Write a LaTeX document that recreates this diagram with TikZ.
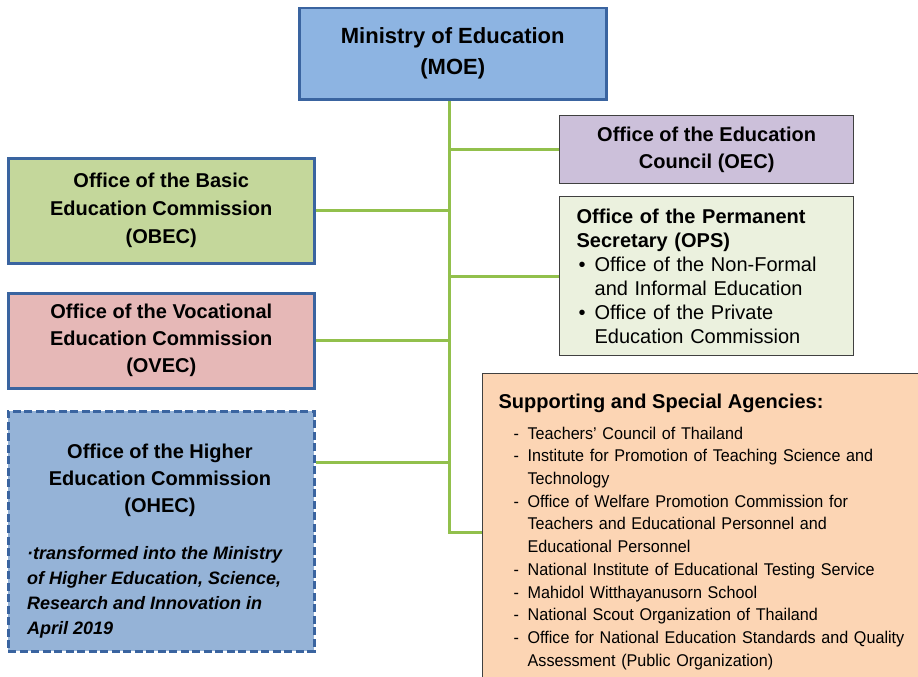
\documentclass[tikz,border=0pt]{standalone}
\usepackage{fontspec}
\setmainfont{Liberation Sans}
\newfontfamily\narrowfont[FakeStretch=0.95]{Liberation Sans}
\usetikzlibrary{backgrounds}
\definecolor{moefill}{RGB}{141,180,226}
\definecolor{boxblue}{RGB}{58,100,160}
\definecolor{obecfill}{RGB}{196,215,155}
\definecolor{ovecfill}{RGB}{230,184,183}
\definecolor{ohecfill}{RGB}{149,179,215}
\definecolor{oecfill}{RGB}{204,192,218}
\definecolor{opsfill}{RGB}{235,241,222}
\definecolor{supfill}{RGB}{252,213,180}
\definecolor{edgegray}{RGB}{64,64,64}
\definecolor{lgreen}{RGB}{146,192,76}
\newcommand{\sitem}[1]{\hspace*{15pt}\makebox[14pt][l]{-}#1}
\newcommand{\scont}[1]{\hspace*{29pt}#1}
\newcommand{\bitem}[1]{\makebox[18pt][l]{\hspace{2pt}•}#1}
\newcommand{\bcont}[1]{\hspace*{18pt}#1}
\begin{document}
\begin{tikzpicture}[x=1pt,y=-1pt,
  bluebox/.style={draw=boxblue, line width=2.5pt, inner sep=0pt, align=center, anchor=north west},
  graybox/.style={draw=edgegray, line width=1.3pt, anchor=north west},
  conn/.style={draw=lgreen, line width=3pt},
  ttl/.style={font={\fontsize{20}{27.5}\selectfont\bfseries}}
]
\path[use as bounding box] (0,0) rectangle (918,677);
\clip (0,0) rectangle (918,677);

% boxes
\node[bluebox, fill=moefill, minimum width=307pt, minimum height=91pt,
      font={\fontsize{22}{31}\selectfont\bfseries}] (MOE) at (298,7)
      {Ministry of Education\\(MOE)};

\node[bluebox, fill=obecfill, minimum width=306pt, minimum height=105pt,
      font={\fontsize{20}{28}\selectfont\bfseries}] (OBEC) at (7,157)
      {Office of the Basic\\Education Commission\\(OBEC)};

\node[bluebox, fill=ovecfill, minimum width=306pt, minimum height=95pt,
      font={\fontsize{20}{27}\selectfont\bfseries}] (OVEC) at (7,292)
      {Office of the Vocational\\Education Commission\\(OVEC)};

\node[bluebox, fill=ohecfill, minimum width=306pt, minimum height=240pt,
      dash pattern=on 8pt off 3.5pt] (OHEC) at (7,410) {};
\node[anchor=north, inner sep=0pt, align=center,
      font={\fontsize{20}{27}\selectfont\bfseries}] (ohecTitle) at (160,444)
      {Office of the Higher\\Education Commission\\(OHEC)};
\node[anchor=north west, inner sep=0pt, align=left,
      font={\fontsize{18}{25}\selectfont\bfseries\itshape}] (ohecNote) at (27,546)
      {·transformed into the Ministry\\of Higher Education, Science,\\Research and Innovation in\\April 2019};

\node[graybox, fill=oecfill, minimum width=294pt, minimum height=68pt, inner sep=0pt,
      align=center, font={\fontsize{20}{27}\selectfont\bfseries}] (OEC) at (559,115)
      {Office of the Education\\Council (OEC)};

\node[graybox, fill=opsfill, minimum width=294pt, minimum height=159pt,
      inner xsep=17pt, inner ysep=0pt, text width=260pt, align=left,
      font={\fontsize{20}{24}\selectfont}] (OPS) at (559,196)
      {\textbf{Office of the Permanent}\\
       \textbf{Secretary (OPS)}\\
       \bitem{Office of the Non-Formal}\\
       \bcont{and Informal Education}\\
       \bitem{Office of the Private}\\
       \bcont{Education Commission}};

\node[graybox, fill=supfill, inner xsep=16pt, inner ysep=20pt, text width=480pt,
      align=left, font={\narrowfont\fontsize{17}{22.7}\selectfont}] (SUP) at (482,373)
      {{\rmfamily\fontsize{20}{22.7}\selectfont\bfseries Supporting and Special Agencies:}\\[8.3pt]
       \sitem{Teachers’ Council of Thailand}\\
       \sitem{Institute for Promotion of Teaching Science and}\\
       \scont{Technology}\\
       \sitem{Office of Welfare Promotion Commission for}\\
       \scont{Teachers and Educational Personnel and}\\
       \scont{Educational Personnel}\\
       \sitem{National Institute of Educational Testing Service}\\
       \sitem{Mahidol Witthayanusorn School}\\
       \sitem{National Scout Organization of Thailand}\\
       \sitem{Office for National Education Standards and Quality}\\
       \scont{Assessment (Public Organization)}};

% connectors
\coordinate (trunkEnd) at (449,532);
\coordinate (ohecC) at (313,462);
\begin{scope}[on background layer]
  \draw[conn] (MOE.south -| trunkEnd) -- (trunkEnd) -- (SUP.west |- trunkEnd);
  \draw[conn] (OBEC.east) -- (OBEC.east -| trunkEnd);
  \draw[conn] (OVEC.east) -- (OVEC.east -| trunkEnd);
  \draw[conn] (OHEC.east |- ohecC) -- (ohecC -| trunkEnd);
  \draw[conn] (OEC.west) -- (OEC.west -| trunkEnd);
  \draw[conn] (OPS.west) -- (OPS.west -| trunkEnd);
\end{scope}
\end{tikzpicture}
\end{document}
